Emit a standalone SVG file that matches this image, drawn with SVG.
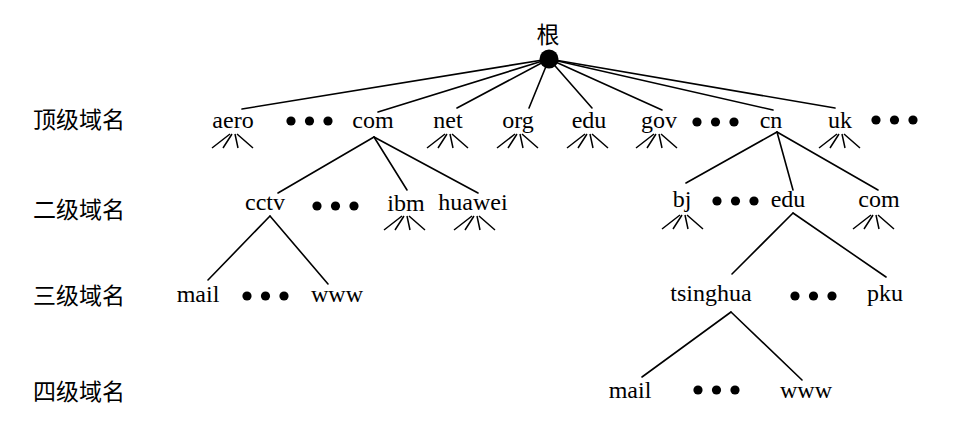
<svg xmlns="http://www.w3.org/2000/svg" xmlns:xlink="http://www.w3.org/1999/xlink" width="970" height="441" viewBox="0 0 970 441">
<style>
.t{font-family:"Liberation Serif","Times New Roman",serif;font-size:24px;fill:#000;text-anchor:middle}
.c{font-family:"Noto Sans CJK SC","Noto Sans",sans-serif;font-size:23px;fill:#000}
.ln{stroke:#000;stroke-width:1.6;fill:none;stroke-linecap:round}
</style>
<defs>
<path id="fan" d="M-3,0 L-21,14 M-1,0 L-10,14 M2,0 L5,14 M4,0 L20,14" stroke="#000" stroke-width="1.5" fill="none"/>
<g id="dots" fill="#000"><circle cx="0" cy="0" r="4.6"/><circle cx="18.5" cy="0" r="4.6"/><circle cx="37" cy="0" r="4.6"/></g>
</defs>
<rect width="970" height="441" fill="#fff"/>
<g id="labels">
<text class="c" x="33" y="128">顶级域名</text>
<text class="c" x="33" y="218">二级域名</text>
<text class="c" x="33" y="304">三级域名</text>
<text class="c" x="33" y="400">四级域名</text>
</g>
<g id="connectors" class="ln">
<line x1="549" y1="59" x2="242" y2="109"/>
<line x1="549" y1="59" x2="378" y2="112"/>
<line x1="549" y1="59" x2="457" y2="108"/>
<line x1="549" y1="59" x2="529" y2="108"/>
<line x1="549" y1="59" x2="592" y2="108"/>
<line x1="549" y1="59" x2="662" y2="110"/>
<line x1="549" y1="59" x2="773" y2="110"/>
<line x1="549" y1="59" x2="835" y2="108"/>
<line x1="374" y1="137" x2="278" y2="193"/>
<line x1="374" y1="137" x2="407" y2="190"/>
<line x1="374" y1="137" x2="478" y2="193"/>
<line x1="270" y1="216" x2="208" y2="280"/>
<line x1="270" y1="216" x2="328" y2="284"/>
<line x1="777" y1="132" x2="686" y2="183"/>
<line x1="777" y1="132" x2="793" y2="190"/>
<line x1="777" y1="132" x2="878" y2="190"/>
<line x1="793" y1="213" x2="732" y2="274"/>
<line x1="793" y1="213" x2="886" y2="277"/>
<line x1="731" y1="312" x2="642" y2="377"/>
<line x1="731" y1="312" x2="802" y2="380"/>
</g>
<g id="root">
<text class="c" x="548" y="43" text-anchor="middle" font-size="24">根</text>
<circle cx="549" cy="59" r="9.5" fill="#000"/>
</g>
<g id="aero"><text class="t" x="233" y="128">aero</text><use xlink:href="#fan" x="233" y="134"/></g>
<g id="dots1a"><use xlink:href="#dots" x="291" y="121"/></g>
<g id="com"><text class="t" x="373" y="128">com</text></g>
<g id="net"><text class="t" x="448" y="128">net</text><use xlink:href="#fan" x="448" y="134"/></g>
<g id="org"><text class="t" x="518" y="128">org</text><use xlink:href="#fan" x="518" y="134"/></g>
<g id="edu"><text class="t" x="589" y="128">edu</text><use xlink:href="#fan" x="588" y="134"/></g>
<g id="gov"><text class="t" x="659" y="128">gov</text><use xlink:href="#fan" x="657" y="134"/></g>
<g id="dots1b"><use xlink:href="#dots" x="697" y="122"/></g>
<g id="cn"><text class="t" x="771" y="128">cn</text></g>
<g id="uk"><text class="t" x="840" y="128">uk</text><use xlink:href="#fan" x="840" y="134"/></g>
<g id="dots1c"><use xlink:href="#dots" x="876" y="120"/></g>
<g id="cctv"><text class="t" x="265" y="210">cctv</text></g>
<g id="dots2a"><use xlink:href="#dots" x="317" y="206"/></g>
<g id="ibm"><text class="t" x="406" y="211">ibm</text><use xlink:href="#fan" x="405" y="216"/></g>
<g id="huawei"><text class="t" x="473" y="210">huawei</text><use xlink:href="#fan" x="475" y="216"/></g>
<g id="bj"><text class="t" x="682" y="207">bj</text><use xlink:href="#fan" x="683" y="215"/></g>
<g id="dots2b"><use xlink:href="#dots" x="717" y="201"/></g>
<g id="cn-edu"><text class="t" x="788" y="207">edu</text></g>
<g id="cn-com"><text class="t" x="879" y="207">com</text><use xlink:href="#fan" x="874" y="215"/></g>
<g id="cctv-mail"><text class="t" x="198" y="302">mail</text></g>
<g id="dots3a"><use xlink:href="#dots" x="247" y="296"/></g>
<g id="cctv-www"><text class="t" x="337" y="302">www</text></g>
<g id="tsinghua"><text class="t" x="711" y="301">tsinghua</text></g>
<g id="dots3b"><use xlink:href="#dots" x="795" y="296"/></g>
<g id="pku"><text class="t" x="885" y="301">pku</text></g>
<g id="ts-mail"><text class="t" x="630" y="398">mail</text></g>
<g id="dots4"><use xlink:href="#dots" x="698" y="390"/></g>
<g id="ts-www"><text class="t" x="806" y="398">www</text></g>
</svg>
